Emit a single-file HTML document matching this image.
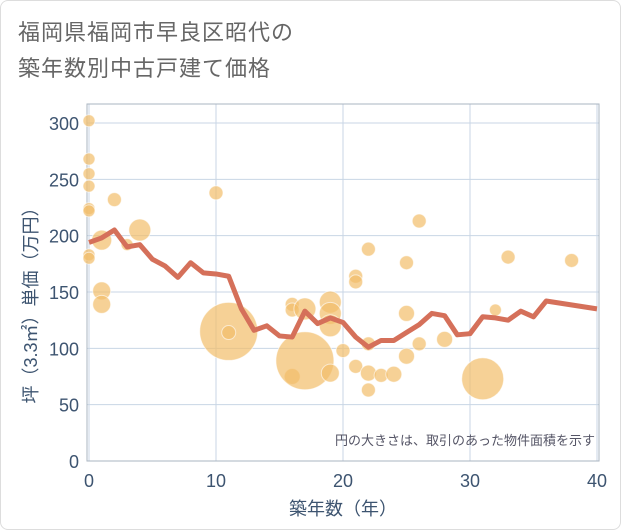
<!DOCTYPE html>
<html><head><meta charset="utf-8">
<style>
body{margin:0;background:#fff;}
#wrap{position:relative;width:619px;height:528px;border:1px solid #ddd;border-radius:8px;overflow:hidden;font-family:"Liberation Sans","Noto Sans CJK JP",sans-serif;}
.title{position:absolute;left:17px;top:14px;font-size:22px;line-height:36px;color:#666;letter-spacing:1px;}
</style></head>
<body>
<div id="wrap">
<div class="title">福岡県福岡市早良区昭代の<br>築年数別中古戸建て価格</div>
<svg id="chart" width="621" height="530" style="position:absolute;left:0;top:0"></svg>
</div>
<script>
const xTicks=[0,10,20,30,40];
const yTicks=[0,50,100,150,200,250,300];
const lineYears=[0,1,2,3,4,5,6,7,8,9,10,11,12,13,14,15,16,17,18,19,20,21,22,23,24,25,26,27,28,29,30,31,32,33,34,35,36,40];
const lineValues=[194,198,205,190,192,179,173,163,176,167,166,164,135,116,120,111,110,133,122,127,123,110,101,107,107,114,121,131,129,112,113,128,127,125,133,128,142,135];
const bubbleYears=[0,0,0,0,0,0,0,0,1,1,1,2,3,4,10,11,11,16,16,16,17,17,19,19,19,19,20,21,21,21,22,22,22,22,23,24,25,25,25,26,26,28,31,32,33,38];
const bubbleValues=[302,268,255,244,224,222,183,180,196,151,139,232,192,205,238,115,114,139,134,75,135,89,141,131,120,78,98,164,159,84,188,104,78,63,76,77,176,131,93,213,104,108,73,134,181,178];
const bubbleAreas=[36,36,36,36,36,36,36,36,100,81,81,49,36,121,49,841,49,49,49,64,121,841,121,121,121,81,49,49,49,49,49,49,64,49,49,64,49,64,64,49,49,64,441,36,49,49];
const NS="http://www.w3.org/2000/svg";
const svg=document.getElementById('chart');
const L=86,R=598,T=103,B=460;
function xs(v){return 88+v*(596-88)/40;}
function ys(v){return 460-v*(460-122)/300;}
function mk(t,a){const e=document.createElementNS(NS,t);for(const k in a)e.setAttribute(k,a[k]);svg.appendChild(e);return e;}
// grid
for(const t of yTicks){
 const g=mk('line',{x1:L,x2:R,y1:ys(t),y2:ys(t),stroke:'#c8d6e5','stroke-width':1});
 
 
 const tx=mk('text',{x:78,y:ys(t)+7,'text-anchor':'end','font-size':18,fill:'#3d5470'});
 tx.textContent=t;
 
 
}
for(const t of xTicks){
 const g=mk('line',{x1:xs(t),x2:xs(t),y1:T,y2:B,stroke:'#c8d6e5','stroke-width':1});
 
 
 const tx=mk('text',{x:xs(t),y:486,'text-anchor':'middle','font-size':18,fill:'#3d5470'});
 tx.textContent=t;
 
 
}
const fr=mk('rect',{x:L,y:T,width:R-L,height:B-T,fill:'none',stroke:'#aab4c0','stroke-width':1});


// bubbles
for(let i=0;i<bubbleYears.length;i++){
 const c=mk('circle',{cx:xs(bubbleYears[i]),cy:ys(bubbleValues[i]),r:Math.sqrt(bubbleAreas[i]),fill:'rgba(242,190,105,0.7)',stroke:'rgba(255,255,255,0.6)','stroke-width':1});
 
 
}
// line
let d='';
for(let i=0;i<lineYears.length;i++){d+=(i?'L':'M')+xs(lineYears[i])+' '+ys(lineValues[i]);}
const p=mk('path',{d:d,fill:'none',stroke:'#d5705a','stroke-width':5,'stroke-linejoin':'round'});


const note=mk('text',{x:594,y:444,'text-anchor':'end','font-size':13,fill:'#556'});
note.textContent='円の大きさは、取引のあった物件面積を示す';


const xt=mk('text',{x:342,y:514,'text-anchor':'middle','font-size':18,fill:'#3d5470'});
xt.textContent='築年数（年）';


const yt=mk('text',{x:0,y:0,'text-anchor':'middle','font-size':18,fill:'#3d5470',transform:'translate(36,300) rotate(-90)'});
yt.textContent='坪（3.3㎡）単価（万円）';


</script>
</body></html>
